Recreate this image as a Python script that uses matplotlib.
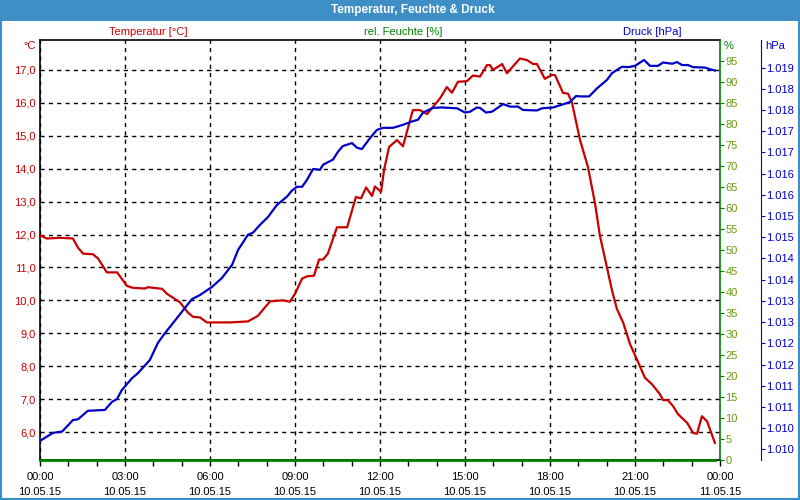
import matplotlib
matplotlib.use('Agg')
import matplotlib.pyplot as plt
from matplotlib.patches import Rectangle
from matplotlib.ticker import FixedLocator, MultipleLocator

plt.rcParams['font.family'] = ['Liberation Sans', 'DejaVu Sans']

# hours since 10.05.15 00:00
temp_hours = [0.0, 0.24, 0.71, 1.16, 1.34, 1.52, 1.87, 2.05, 2.36, 2.72, 3.07, 3.28,
              3.71, 3.81, 4.31, 4.48, 4.94, 5.22, 5.4, 5.65, 5.89, 6.71, 7.34, 7.69,
              8.12, 8.58, 8.82, 9.0, 9.25, 9.42, 9.67, 9.85, 9.99, 10.16, 10.48, 10.84,
              11.15, 11.33, 11.51, 11.72, 11.82, 12.04, 12.14, 12.32, 12.6, 12.81, 13.16,
              13.41, 13.66, 13.87, 14.12, 14.36, 14.54, 14.75, 15.07, 15.28, 15.53, 15.78,
              15.88, 15.99, 16.31, 16.48, 16.94, 17.19, 17.4, 17.54, 17.82, 18.07, 18.18,
              18.46, 18.64, 18.78, 19.06, 19.34, 19.59, 19.76, 20.01, 20.19, 20.36, 20.58,
              20.82, 21.07, 21.35, 21.6, 21.88, 21.99, 22.16, 22.34, 22.52, 22.84, 23.05,
              23.19, 23.36, 23.54, 23.82]
temperature = [11.97, 11.88, 11.9, 11.88, 11.6, 11.42, 11.4, 11.27, 10.85, 10.85, 10.44, 10.38,
               10.36, 10.4, 10.35, 10.2, 9.94, 9.63, 9.5, 9.48, 9.33, 9.33, 9.36, 9.53,
               9.97, 10.0, 9.96, 10.2, 10.66, 10.73, 10.75, 11.24, 11.24, 11.42, 12.22, 12.22,
               13.14, 13.1, 13.43, 13.17, 13.46, 13.3, 13.95, 14.66, 14.87, 14.68, 15.78,
               15.78, 15.66, 15.88, 16.14, 16.48, 16.31, 16.64, 16.66, 16.83, 16.8, 17.15,
               17.15, 17.0, 17.18, 16.9, 17.35, 17.3, 17.18, 17.18, 16.73, 16.85, 16.84,
               16.3, 16.28, 15.99, 14.87, 14.05, 12.94, 11.97, 11.0, 10.3, 9.74, 9.33,
               8.68, 8.2, 7.65, 7.45, 7.15, 6.97, 6.97, 6.79, 6.54, 6.28, 5.97,
               5.95, 6.48, 6.33, 5.67]

press_hours = [0.0, 0.46, 0.78, 1.16, 1.34, 1.69, 2.29, 2.54, 2.72, 2.89, 3.25, 3.46, 3.88,
               4.16, 4.41, 4.84, 5.05, 5.36, 5.65, 6.07, 6.42, 6.78, 6.99, 7.34, 7.52, 7.76,
               8.05, 8.36, 8.72, 8.89, 9.07, 9.25, 9.42, 9.64, 9.88, 9.99, 10.34, 10.52,
               10.69, 11.01, 11.19, 11.36, 11.65, 11.89, 12.11, 12.46, 12.81, 13.13, 13.34,
               13.52, 13.87, 14.19, 14.72, 15.0, 15.18, 15.42, 15.53, 15.74, 15.95, 16.13,
               16.34, 16.59, 16.87, 17.05, 17.54, 17.72, 18.11, 18.35, 18.71, 18.92, 19.06,
               19.38, 19.66, 20.01, 20.19, 20.54, 20.75, 21.0, 21.32, 21.53, 21.81, 21.99,
               22.31, 22.48, 22.66, 22.87, 23.05, 23.47, 23.65, 23.82]
pressure = [1010.20, 1010.39, 1010.42, 1010.69, 1010.71, 1010.91, 1010.93, 1011.12, 1011.19,
            1011.40, 1011.68, 1011.80, 1012.11, 1012.51, 1012.74, 1013.10, 1013.28, 1013.54,
            1013.64, 1013.83, 1014.04, 1014.35, 1014.70, 1015.06, 1015.11, 1015.29, 1015.48,
            1015.76, 1015.96, 1016.10, 1016.19, 1016.19, 1016.35, 1016.61, 1016.59, 1016.71,
            1016.83, 1017.02, 1017.15, 1017.22, 1017.11, 1017.08, 1017.34, 1017.53, 1017.58,
            1017.58, 1017.65, 1017.73, 1017.77, 1017.94, 1018.05, 1018.06, 1018.04, 1017.94,
            1017.96, 1018.06, 1018.05, 1017.94, 1017.96, 1018.04, 1018.14, 1018.08, 1018.08,
            1018.00, 1017.99, 1018.04, 1018.06, 1018.11, 1018.19, 1018.33, 1018.32, 1018.32,
            1018.51, 1018.71, 1018.87, 1019.02, 1019.01, 1019.04, 1019.18, 1019.04, 1019.04,
            1019.12, 1019.09, 1019.13, 1019.06, 1019.06, 1019.01, 1019.00, 1018.96, 1018.93]

hum_hours = [0.0, 23.82]
humidity = [0.0, 0.0]

x_ticks = [0, 3, 6, 9, 12, 15, 18, 21, 24]
x_labels = ['00:00\n10.05.15', '03:00\n10.05.15', '06:00\n10.05.15', '09:00\n10.05.15',
            '12:00\n10.05.15', '15:00\n10.05.15', '18:00\n10.05.15', '21:00\n10.05.15',
            '00:00\n11.05.15']
temp_ticks = [6, 7, 8, 9, 10, 11, 12, 13, 14, 15, 16, 17]
hum_ticks = list(range(0, 100, 5))
press_ticks = [1010 + 0.5 * i for i in range(19)]

RED = '#c80000'
GREEN = '#008000'
HUMTXT = '#6b9a10'
BLUE = '#0000c8'
FS = 8

fig = plt.figure(figsize=(8, 5), dpi=100)
fig.patches.append(Rectangle((0, 0), 1, 1, transform=fig.transFigure, fill=False,
                             edgecolor='#3d8fc6', linewidth=3, zorder=0))
fig.patches.append(Rectangle((0, 1 - 21 / 500), 1, 21 / 500, transform=fig.transFigure,
                             facecolor='#3d8fc6', edgecolor='none', zorder=1))
fig.text(413 / 800, 1 - 10.5 / 500, 'Temperatur, Feuchte & Druck', color='white',
         fontsize=8.5, fontweight='bold', ha='center', va='center')

ax = fig.add_axes([40 / 800, 40 / 500, 680 / 800, 420 / 500])
ax_h = ax.twinx()
ax_p = ax.twinx()

# temperature
ax.plot(temp_hours, temperature, color=RED, linewidth=1.6, zorder=3)
ax.set_xlim(0, 24)
ax.set_ylim(5.15, 17.91)
ax.set_yticks(temp_ticks)
ax.set_yticklabels([f'{t:.1f}'.replace('.', ',') for t in temp_ticks])
ax.tick_params(axis='y', length=0, pad=3, labelcolor=RED, labelsize=FS)
ax.set_xticks(x_ticks)
ax.set_xticklabels(x_labels, fontsize=FS, linespacing=1.6)
ax.xaxis.set_minor_locator(MultipleLocator(1))
ax.tick_params(axis='x', which='both', direction='out', length=4, width=1, pad=5)
ax.grid(True, which='major', color='black', linestyle=(0, (3, 3)), linewidth=1)
ax.spines['right'].set_visible(False)
for s in ('left', 'top', 'bottom'):
    ax.spines[s].set_linewidth(1.2)

# humidity
ax_h.plot(hum_hours, humidity, color=GREEN, linewidth=2, clip_on=False, zorder=3)
ax_h.set_ylim(0, 100)
ax_h.yaxis.set_major_locator(FixedLocator(hum_ticks))
ax_h.tick_params(axis='y', direction='out', length=3, color=GREEN, pad=1,
                 labelcolor=HUMTXT, labelsize=FS)
for s in ('left', 'top', 'bottom'):
    ax_h.spines[s].set_visible(False)
ax_h.spines['right'].set_color(GREEN)
ax_h.spines['right'].set_linewidth(1.2)

# pressure
ax_p.plot(press_hours, pressure, color=BLUE, linewidth=1.6, zorder=3)
ax_p.set_ylim(1009.75, 1019.65)
ax_p.yaxis.set_major_locator(FixedLocator(press_ticks))
ax_p.set_yticklabels(['1.%03d' % int(p - 1000) for p in press_ticks])
ax_p.spines['right'].set_position(('outward', 41 * 72 / 100))
ax_p.spines['right'].set_color(BLUE)
for s in ('left', 'top', 'bottom'):
    ax_p.spines[s].set_visible(False)
ax_p.tick_params(axis='y', direction='out', length=3, color=BLUE, pad=1,
                 labelcolor=BLUE, labelsize=FS)

# headings
fig.text(148 / 800, 1 - 32 / 500, 'Temperatur [°C]', color=RED, fontsize=FS,
         ha='center', va='center')
fig.text(403 / 800, 1 - 32 / 500, 'rel. Feuchte [%]', color=GREEN, fontsize=FS,
         ha='center', va='center')
fig.text(652 / 800, 1 - 32 / 500, 'Druck [hPa]', color=BLUE, fontsize=FS,
         ha='center', va='center')
fig.text(36 / 800, 1 - 46 / 500, '°C', color=RED, fontsize=FS, ha='right', va='center')
fig.text(724 / 800, 1 - 46 / 500, '%', color=GREEN, fontsize=FS, ha='left', va='center')
fig.text(765 / 800, 1 - 46 / 500, 'hPa', color=BLUE, fontsize=FS, ha='left', va='center')

fig.savefig('out.png', dpi=100)
